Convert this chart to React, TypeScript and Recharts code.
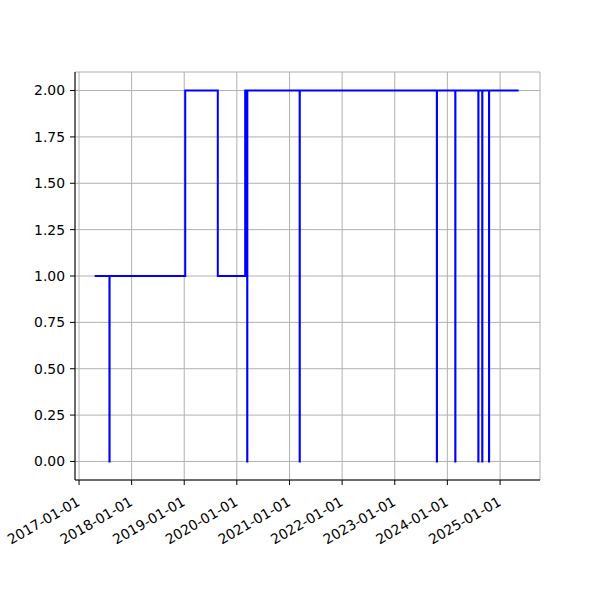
import React from "react";
import { LineChart, Line, XAxis, YAxis, CartesianGrid } from "recharts";

const dates = [
  "2017-04-20", "2017-07-31", "2017-08-01", "2019-01-08", "2019-08-22",
  "2020-02-28", "2020-03-13", "2020-03-14", "2021-03-12", "2021-03-13",
  "2023-10-20", "2023-10-21", "2024-02-25", "2024-02-26", "2024-08-03",
  "2024-08-04", "2024-08-30", "2024-08-31", "2024-10-16", "2024-10-17",
  "2025-05-10",
];
const values = [1, 0, 1, 2, 1, 2, 0, 2, 0, 2, 0, 2, 0, 2, 0, 2, 0, 2, 0, 2, 2];

const xTickLabels = [
  "2017-01-01", "2018-01-01", "2019-01-01", "2020-01-01", "2021-01-01",
  "2022-01-01", "2023-01-01", "2024-01-01", "2025-01-01",
];
const yTicks = [0, 0.25, 0.5, 0.75, 1, 1.25, 1.5, 1.75, 2];

const data = dates.map((d, i) => ({ t: Date.parse(d), v: values[i] }));
const xTicks = xTickLabels.map((s) => Date.parse(s));
const xDomain = [Date.parse("2016-12-04"), Date.parse("2025-10-05")];
const yDomain = [-0.1, 2.1];

const FONT = "DejaVu Sans, sans-serif";

const fmtDate = (t: number) => new Date(t).toISOString().slice(0, 10);

const XTick = (props: any) => {
  const { x, y, payload } = props;
  const bx = x + 2;
  const by = y + 19.5;
  return (
    <text
      x={bx}
      y={by}
      textAnchor="end"
      transform={`rotate(-30, ${bx}, ${by})`}
      fontSize={13.9}
      fontFamily={FONT}
      fill="#000"
    >
      {fmtDate(payload.value)}
    </text>
  );
};

export default function App() {
  return (
    <div style={{ position: "absolute", left: 0, top: 0, background: "#fff" }}>
      <LineChart
        width={600}
        height={600}
        data={data}
        margin={{ top: 72, right: 60, bottom: 0, left: 0 }}
      >
        <CartesianGrid stroke="#b0b0b0" strokeWidth={1} />
        <XAxis
          dataKey="t"
          type="number"
          domain={xDomain}
          ticks={xTicks}
          allowDataOverflow
          height={120}
          tickSize={5}
          tickMargin={0}
          stroke="#000"
          tickLine={{ stroke: "#000" }}
          tick={<XTick />}
          interval={0}
        />
        <XAxis
          xAxisId="top"
          orientation="top"
          type="number"
          domain={xDomain}
          allowDataOverflow
          height={0}
          tick={false}
          tickLine={false}
          stroke="#000"
        />
        <YAxis
          type="number"
          domain={yDomain}
          ticks={yTicks}
          allowDataOverflow
          width={75}
          tickSize={5}
          tickMargin={5}
          stroke="#000"
          tickLine={{ stroke: "#000" }}
          tick={{ fill: "#000", fontSize: 13.9, fontFamily: FONT }}
          tickFormatter={(v: number) => v.toFixed(2)}
          interval={0}
        />
        <YAxis
          yAxisId="right"
          orientation="right"
          type="number"
          domain={yDomain}
          allowDataOverflow
          width={0}
          tick={false}
          tickLine={false}
          stroke="#000"
        />
        <Line
          dataKey="v"
          type="stepAfter"
          stroke="#0000ff"
          strokeWidth={2}
          dot={false}
          isAnimationActive={false}
        />
      </LineChart>
    </div>
  );
}
